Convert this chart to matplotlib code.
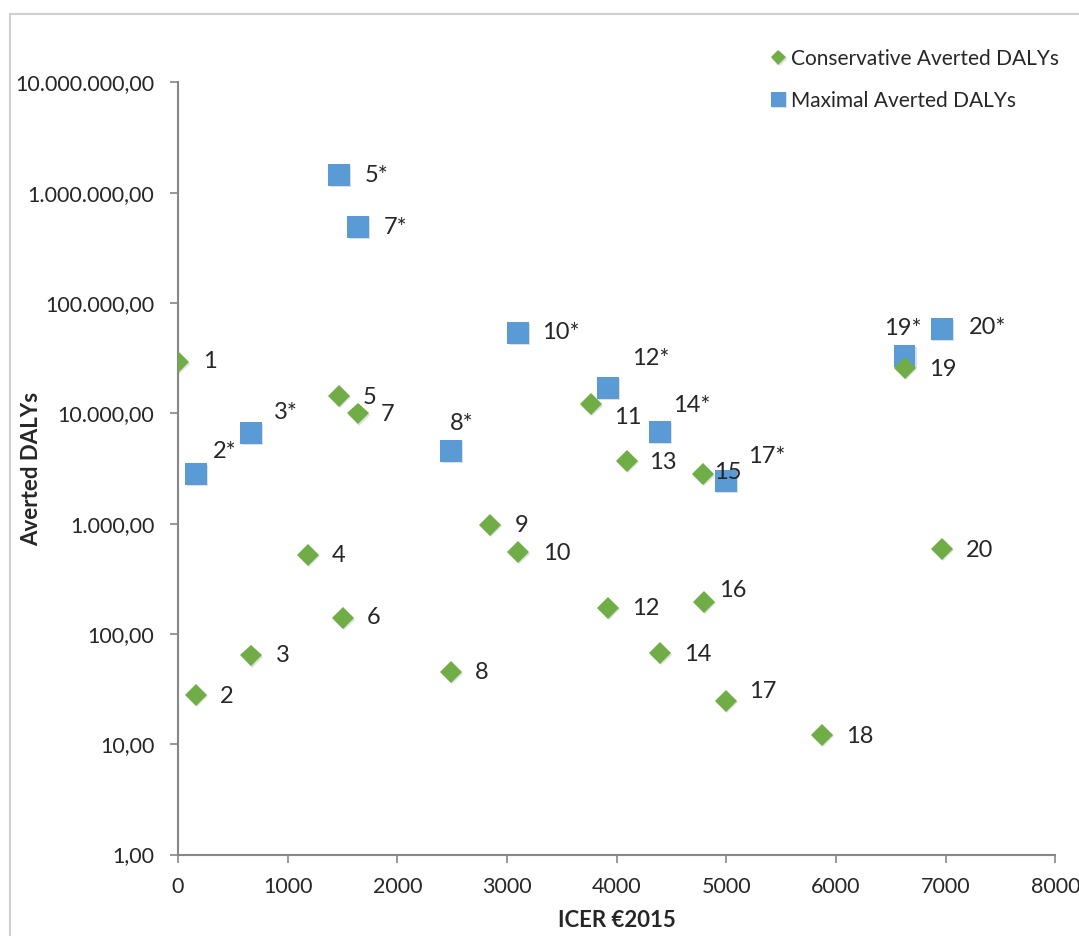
import matplotlib
matplotlib.use('Agg')
import matplotlib.pyplot as plt
import matplotlib.patheffects as pe
from matplotlib.patches import Rectangle
from matplotlib.ticker import FuncFormatter, FixedLocator

# ICER (EUR 2015) per intervention and averted DALYs
icer = [0, 164, 666, 1185, 1468, 1504, 1641, 2489, 2844, 3100,
        3765, 3920, 4093, 4394, 4786, 4795, 4995, 5870, 6627, 6965]
conservative_dalys = [29000, 28, 64, 520, 14400, 139, 10000, 45, 970, 550,
                      12100, 172, 3700, 67, 2800, 195, 24.7, 12.2, 25800, 590]
conservative_labels = [str(i) for i in range(1, 21)]

max_icer = [164, 666, 1468, 1641, 2489, 3100, 3920, 4394, 4995, 6627, 6965]
maximal_dalys = [2820, 6640, 1450000, 490000, 4570, 53500, 16900, 6780, 2440, 33100, 58200]
maximal_labels = ['2*', '3*', '5*', '7*', '8*', '10*', '12*', '14*', '17*', '19*', '20*']

# label centre offsets in pixels (dx, dy)
cons_offsets = [(32, 1), (31, -2), (32, 0), (31, -1), (31, -2), (31, 1), (30, -1), (31, 0),
                (32, 0), (39, -1), (37, -13), (38, -1), (36, -2), (38, -1), (25, 2),
                (29, 11), (37, 9), (38, -2), (38, -2), (38, -2)]
max_offsets = [(29, 22), (35, 20), (38, -1), (38, -1), (11, 27), (43, 0), (43, 30),
               (32, 26), (41, 24), (-2, 27), (46, 1)]

green = '#70AD47'
blue = '#5B9BD5'
axis_grey = '#868686'
text_col = '#262626'

plt.rcParams['font.family'] = ['Lato', 'DejaVu Sans']

fig = plt.figure(figsize=(10.79, 9.36), dpi=100)
ax = fig.add_axes([0.165, 0.087, 0.813, 0.825])

shadow = [pe.SimplePatchShadow(offset=(1, -1), alpha=0.15), pe.Normal()]

ax.plot(max_icer, maximal_dalys, linestyle='none', marker='s', markersize=15.5,
        color=blue, markeredgewidth=0, label='Maximal Averted DALYs',
        path_effects=shadow, zorder=3)
ax.plot(icer, conservative_dalys, linestyle='none', marker='D', markersize=11,
        color=green, markeredgewidth=0, label='Conservative Averted DALYs',
        path_effects=shadow, zorder=4)

for x, y, t, off in zip(icer, conservative_dalys, conservative_labels, cons_offsets):
    ax.annotate(t, (x, y), xytext=off, textcoords='offset pixels',
                ha='center', va='center', fontsize=17, color=text_col, zorder=5)
for x, y, t, off in zip(max_icer, maximal_dalys, maximal_labels, max_offsets):
    ax.annotate(t, (x, y), xytext=off, textcoords='offset pixels',
                ha='center', va='center', fontsize=17, color=text_col, zorder=5)

ax.set_yscale('log')
ax.set_ylim(1, 1e7)
ax.set_xlim(0, 8000)
ax.xaxis.set_major_locator(FixedLocator(range(0, 8001, 1000)))
ax.yaxis.set_major_locator(FixedLocator([10 ** k for k in range(0, 8)]))
ax.yaxis.set_minor_locator(FixedLocator([]))


def euro_fmt(v, pos):
    s = f'{v:,.2f}'
    return s.replace(',', 'X').replace('.', ',').replace('X', '.')


ax.yaxis.set_major_formatter(FuncFormatter(euro_fmt))

for side in ['top', 'right']:
    ax.spines[side].set_visible(False)
for side in ['left', 'bottom']:
    ax.spines[side].set_color(axis_grey)
    ax.spines[side].set_linewidth(1.5)
ax.tick_params(axis='both', colors=axis_grey, length=6, width=1.2,
               labelcolor=text_col, labelsize=15.5)
ax.tick_params(axis='x', pad=10)
ax.tick_params(axis='y', pad=11)

ax.set_ylabel('Averted DALYs', fontsize=16, fontweight='bold', color=text_col)
ax.set_xlabel('ICER €2015', fontsize=16, fontweight='bold', color=text_col)
ax.yaxis.set_label_coords(-0.155, 0.5)
ax.xaxis.set_label_coords(0.5, -0.072)

handles, labels = ax.get_legend_handles_labels()
leg = fig.legend(handles[::-1], labels[::-1], loc='upper left',
                 bbox_to_anchor=(0.698, 0.968), frameon=False, fontsize=15,
                 handlelength=0.6, handletextpad=0.3, labelspacing=1.05,
                 markerscale=0.7, labelcolor=text_col)

# light frame around the chart area
fig.patches.append(Rectangle((10 / 1079, -0.1), 1.2, 1 - 14 / 936 + 0.1,
                             transform=fig.transFigure, fill=False,
                             edgecolor='#d0d0d0', linewidth=1.5))

fig.savefig('out.png', dpi=100, facecolor='white')
